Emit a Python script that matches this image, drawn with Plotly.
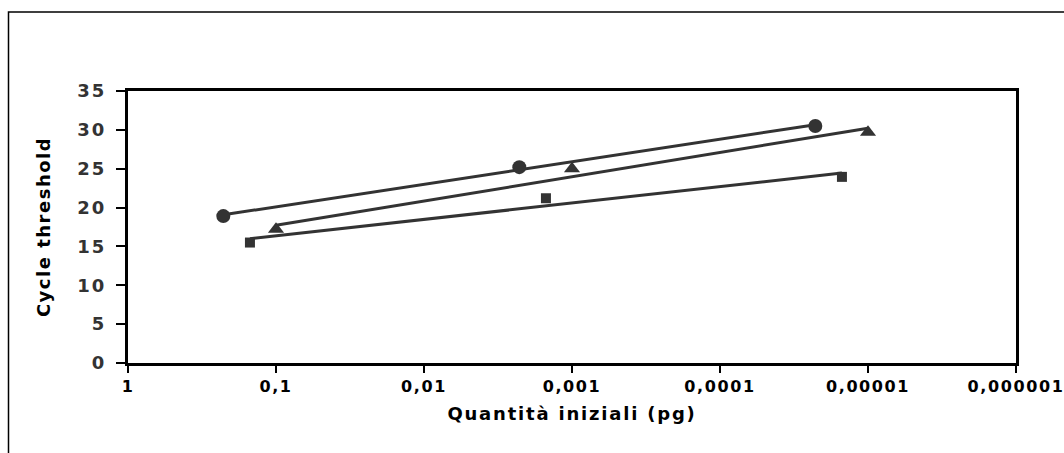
import numpy as np
import plotly.graph_objects as go

# ---- data ----
x_circle = [0.227, 0.00227, 0.0000227]
y_circle = [18.9, 25.2, 30.5]

x_triangle = [0.1, 0.001, 0.00001]
y_triangle = [17.2, 25.0, 29.7]

x_square = [0.15, 0.0015, 0.000015]
y_square = [15.5, 21.2, 23.95]

x_tick_vals = [1, 0.1, 0.01, 0.001, 0.0001, 0.00001, 0.000001]
x_tick_labels = ["1", "0,1", "0,01", "0,001", "0,0001", "0,00001", "0,000001"]
y_tick_vals = [0, 5, 10, 15, 20, 25, 30, 35]

x_title = "Quantità iniziali (pg)"
y_title = "Cycle threshold"

INK = "#333333"
FONT = "DejaVu Sans"


def spaced(t, px):
    return f'<span style="letter-spacing:{px}px">{t}</span>'


def log_trend(xs, ys):
    lx = np.log10(np.array(xs, dtype=float))
    b, a = np.polyfit(lx, np.array(ys, dtype=float), 1)
    xl = np.logspace(lx.max(), lx.min(), 60)
    return xl, a + b * np.log10(xl)


fig = go.Figure()

series = [
    ("Serie 1", x_circle, y_circle, "circle", 14),
    ("Serie 2", x_triangle, y_triangle, "triangle-up", 14),
    ("Serie 3", x_square, y_square, "square", 10),
]
for name, xs, ys, sym, sz in series:
    tx, ty = log_trend(xs, ys)
    fig.add_trace(go.Scatter(x=tx, y=ty, mode="lines", name=name + " trend",
                             line=dict(color=INK, width=3), showlegend=False,
                             hoverinfo="skip"))
    fig.add_trace(go.Scatter(x=xs, y=ys, mode="markers", name=name,
                             marker=dict(symbol=sym, size=sz, color=INK),
                             showlegend=False))

W, H = 1064, 453
L, T = 128, 91
R, B = 48, 90
pw, ph = W - L - R, H - T - B

fig.update_layout(
    template="none",
    width=W, height=H,
    margin=dict(l=L, r=R, t=T, b=B, autoexpand=False),
    paper_bgcolor="white", plot_bgcolor="white",
    font=dict(family=FONT, color="black"),
    showlegend=False,
    xaxis=dict(
        type="log", range=[0, -6], automargin=False,
        tickvals=x_tick_vals,
        ticktext=[spaced(t, 1.6) for t in x_tick_labels],
        tickfont=dict(family=FONT, size=16, color="black", weight="bold"),
        ticks="outside", ticklen=7, tickwidth=1.5, tickcolor="black",
        showline=True, linecolor="black", linewidth=3, mirror=True,
        showgrid=False, zeroline=False,
        ticklabelstandoff=0,
        ticklabeloverflow="allow",
        title=dict(text=spaced(x_title, 1.8),
                   font=dict(family=FONT, size=18, color="black", weight="bold"),
                   standoff=13),
    ),
    yaxis=dict(
        range=[0, 35], automargin=False,
        tickvals=y_tick_vals,
        ticktext=[spaced(str(v), 2) for v in y_tick_vals],
        tickfont=dict(family=FONT, size=18, color=INK, weight="bold"),
        ticks="outside", ticklen=9, tickwidth=1.5, tickcolor="black",
        showline=True, linecolor="black", linewidth=3, mirror=True,
        showgrid=False, zeroline=False,
        ticklabelstandoff=6,
        title=dict(text=spaced(y_title, 1.5),
                   font=dict(family=FONT, size=18, color="black", weight="bold"),
                   standoff=23),
    ),
    shapes=[dict(type="rect", xref="paper", yref="paper",
                 x0=(8.5 - L) / pw, x1=(W + 10 - L) / pw,
                 y0=(H - B - (H + 10)) / ph, y1=(H - B - 12) / ph,
                 line=dict(color="black", width=1.5), layer="below")],
)

fig.write_html(
    "out.html",
    config={"displayModeBar": False},
    post_script="document.body.style.margin='0';document.body.style.overflow='hidden';",
)
